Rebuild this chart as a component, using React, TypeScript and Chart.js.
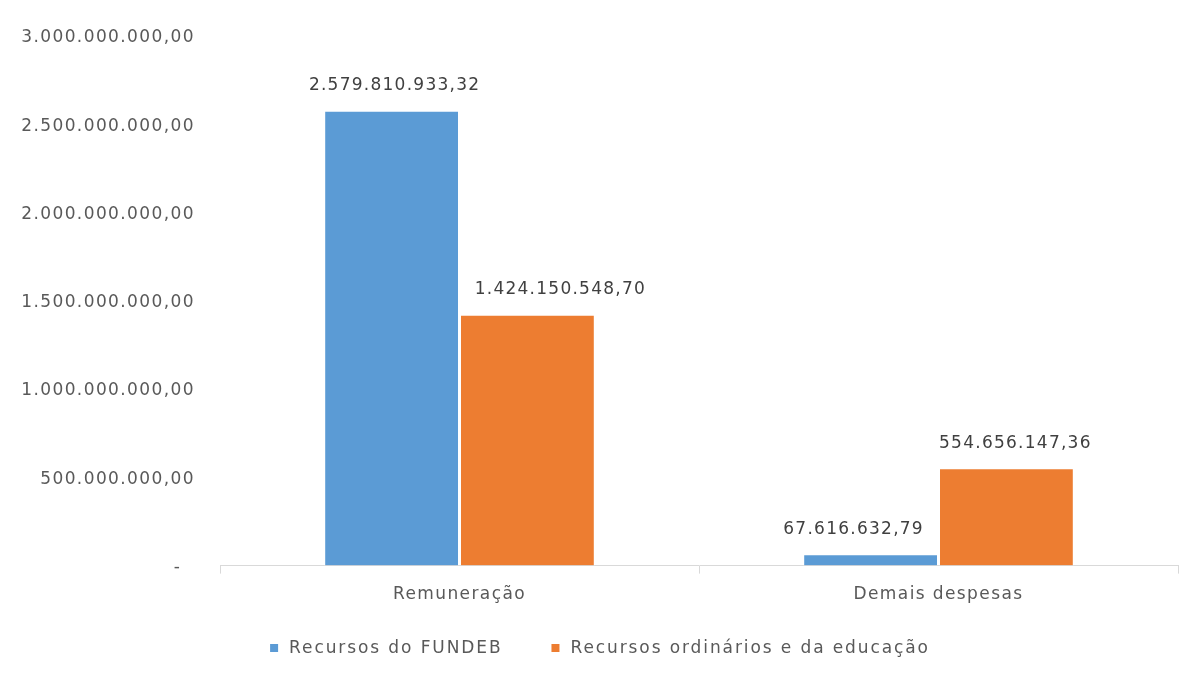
import React, { useEffect, useRef } from "react";
import { Chart, registerables } from "chart.js";

Chart.register(...registerables);

const categories = ["Remuneração", "Demais despesas"];
const fundebValues = [2579810933.32, 67616632.79];
const ordinariosValues = [1424150548.7, 554656147.36];
const seriesNames = ["Recursos do FUNDEB", "Recursos ordinários e da educação"];
const seriesColors = ["#5B9BD5", "#ED7D31"];
const yMax = 3000000000;
const yStep = 500000000;

const FONT = "'DejaVu Sans', sans-serif";
// horizontal nudges of the value labels (dataset x category), as placed in the original
const LABEL_NUDGE = [
  [3, -17],
  [33, 9],
];

function fmt(v: number): string {
  const neg = v < 0;
  const fixed = Math.abs(v).toFixed(2);
  const [intPart, dec] = fixed.split(".");
  const withDots = intPart.replace(/\B(?=(\d{3})+(?!\d))/g, ".");
  return (neg ? "-" : "") + withDots + "," + dec;
}

const spacingPlugin = {
  id: "letterSpacing",
  beforeLayout(chart: any) {
    chart.ctx.letterSpacing = "1.4px";
  },
  beforeDraw(chart: any) {
    chart.ctx.letterSpacing = "1.4px";
  },
};

const dataLabelPlugin = {
  id: "dataLabels",
  afterDatasetsDraw(chart: any) {
    const ctx = chart.ctx;
    ctx.save();
    ctx.letterSpacing = "1.25px";
    ctx.font = `17px ${FONT}`;
    ctx.fillStyle = "#404040";
    ctx.textAlign = "center";
    ctx.textBaseline = "bottom";
    chart.data.datasets.forEach((ds: any, i: number) => {
      const meta = chart.getDatasetMeta(i);
      meta.data.forEach((bar: any, j: number) => {
        ctx.fillText(fmt(ds.data[j]), bar.x + LABEL_NUDGE[i][j], bar.y - 16);
      });
    });
    ctx.restore();
  },
};

const customLegendPlugin = {
  id: "customLegend",
  afterDraw(chart: any) {
    const ctx = chart.ctx;
    ctx.save();
    ctx.letterSpacing = "1.9px";
    ctx.font = `17px ${FONT}`;
    ctx.textBaseline = "middle";
    ctx.textAlign = "left";
    const box = 8;
    const boxGap = 11;
    const itemGap = 49;
    const names = chart.data.datasets.map((d: any) => d.label);
    const widths = names.map((n: string) => ctx.measureText(n).width);
    const total =
      widths.reduce((a: number, b: number) => a + b, 0) +
      names.length * (box + boxGap) +
      (names.length - 1) * itemGap;
    let x = 600 - total / 2;
    const y = 648;
    chart.data.datasets.forEach((d: any, i: number) => {
      ctx.fillStyle = d.backgroundColor;
      ctx.fillRect(x, y - box / 2, box, box);
      x += box + boxGap;
      ctx.fillStyle = "#595959";
      ctx.fillText(d.label, x, y + 1);
      x += widths[i] + itemGap;
    });
    ctx.restore();
  },
};

export default function App() {
  const ref = useRef<HTMLCanvasElement>(null);
  useEffect(() => {
    document.body.style.margin = "0";
    const chart = new Chart(ref.current!, {
      type: "bar",
      data: {
        labels: categories,
        datasets: [
          {
            label: seriesNames[0],
            data: fundebValues,
            backgroundColor: seriesColors[0],
            borderColor: "#ffffff",
            borderWidth: 1.5,
            barPercentage: 1,
            categoryPercentage: 0.567,
          },
          {
            label: seriesNames[1],
            data: ordinariosValues,
            backgroundColor: seriesColors[1],
            borderColor: "#ffffff",
            borderWidth: 1.5,
            barPercentage: 1,
            categoryPercentage: 0.567,
          },
        ],
      },
      options: {
        responsive: false,
        animation: false,
        layout: { padding: { top: 36, right: 17, left: 0, bottom: 63 } },
        scales: {
          x: {
            grid: {
              display: true,
              drawOnChartArea: false,
              drawTicks: true,
              tickLength: 8,
              color: "#d9d9d9",
              offset: true,
            },
            border: { display: true, color: "#d9d9d9", width: 1 },
            ticks: { color: "#595959", font: { family: FONT, size: 17 }, padding: 11 },
          },
          y: {
            min: 0,
            max: yMax,
            grid: { display: false, drawTicks: false },
            border: { display: false },
            afterFit: (scale: any) => {
              scale.width = 220;
            },
            ticks: {
              stepSize: yStep,
              color: "#595959",
              font: { family: FONT, size: 17 },
              padding: 25,
              labelOffset: 2,
              callback: (v: any) => (Number(v) === 0 ? "-  " : fmt(Number(v))),
            },
          },
        },
        plugins: {
          legend: { display: false },
          tooltip: { enabled: false },
        },
      },
      plugins: [spacingPlugin, dataLabelPlugin, customLegendPlugin],
    });
    return () => chart.destroy();
  }, []);
  return <canvas ref={ref} width={1195} height={679} style={{ display: "block" }} />;
}
